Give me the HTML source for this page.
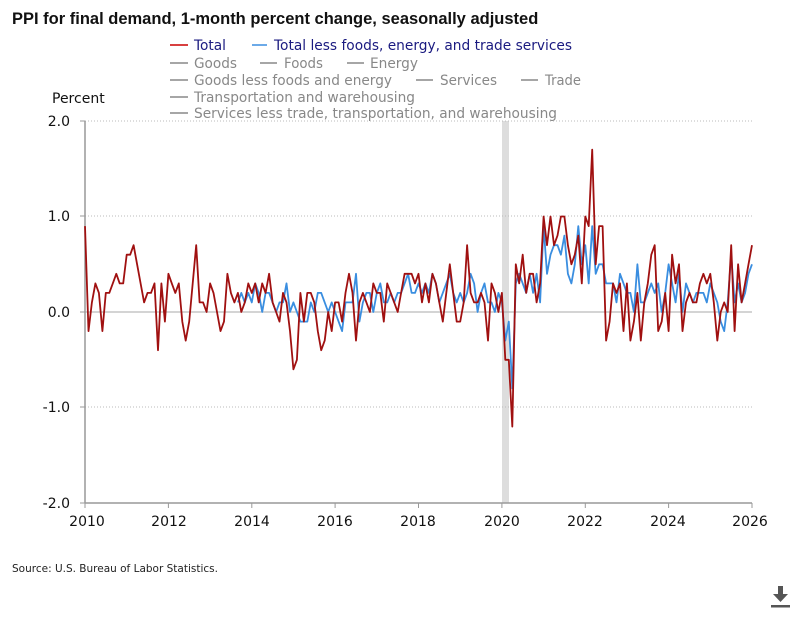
<!DOCTYPE html>
<html><head><meta charset="utf-8"><style>
body{margin:0;background:#fff;width:800px;height:617px;overflow:hidden}
svg{display:block}
</style></head><body>
<svg width="800" height="617" xmlns="http://www.w3.org/2000/svg" font-family="DejaVu Sans, Liberation Sans, sans-serif">
<text x="12" y="24" font-family="Liberation Sans, sans-serif" font-weight="bold" font-size="16.5" fill="#111">PPI for final demand, 1-month percent change, seasonally adjusted</text>
<g font-size="14">
<line x1="170" y1="45" x2="188" y2="45" stroke="#c00" stroke-width="1.5"/><text x="194" y="50" fill="#1a1a80" textLength="32" lengthAdjust="spacingAndGlyphs">Total</text>
<line x1="252" y1="45" x2="267" y2="45" stroke="#3a8ee0" stroke-width="1.5"/><text x="274" y="50" fill="#1a1a80" textLength="298" lengthAdjust="spacingAndGlyphs">Total less foods, energy, and trade services</text>
<g fill="#888" stroke="#888" stroke-width="1.5">
<line x1="170" y1="63" x2="188" y2="63"/><text x="194" y="68" stroke="none" textLength="43" lengthAdjust="spacingAndGlyphs">Goods</text>
<line x1="260" y1="63" x2="277" y2="63"/><text x="284" y="68" stroke="none" textLength="39" lengthAdjust="spacingAndGlyphs">Foods</text>
<line x1="347" y1="63" x2="364" y2="63"/><text x="370" y="68" stroke="none" textLength="48" lengthAdjust="spacingAndGlyphs">Energy</text>
<line x1="170" y1="80" x2="188" y2="80"/><text x="194" y="85" stroke="none" textLength="198" lengthAdjust="spacingAndGlyphs">Goods less foods and energy</text>
<line x1="416" y1="80" x2="433" y2="80"/><text x="440" y="85" stroke="none" textLength="57" lengthAdjust="spacingAndGlyphs">Services</text>
<line x1="521" y1="80" x2="538" y2="80"/><text x="545" y="85" stroke="none" textLength="36" lengthAdjust="spacingAndGlyphs">Trade</text>
<line x1="170" y1="97" x2="188" y2="97"/><text x="194" y="102" stroke="none" textLength="221" lengthAdjust="spacingAndGlyphs">Transportation and warehousing</text>
<line x1="170" y1="113" x2="188" y2="113"/><text x="194" y="118" stroke="none" textLength="363" lengthAdjust="spacingAndGlyphs">Services less trade, transportation, and warehousing</text>
</g></g>
<text x="52" y="103" font-size="14" fill="#111">Percent</text>
<rect x="502" y="121" width="7" height="382" fill="#ddd"/>
<g stroke="#bbb" stroke-dasharray="1,2" stroke-width="1">
<line x1="85" y1="121" x2="752" y2="121"/><line x1="85" y1="216" x2="752" y2="216"/><line x1="85" y1="407" x2="752" y2="407"/>
</g>
<line x1="85" y1="312" x2="752" y2="312" stroke="#aaa"/>
<line x1="85" y1="121" x2="85" y2="503" stroke="#999" stroke-width="1.5"/>
<line x1="85" y1="503" x2="752" y2="503" stroke="#999" stroke-width="1.5"/>
<g stroke="#999"><line x1="80" y1="121" x2="85" y2="121"/><line x1="80" y1="216" x2="85" y2="216"/><line x1="80" y1="312" x2="85" y2="312"/><line x1="80" y1="407" x2="85" y2="407"/><line x1="80" y1="503" x2="85" y2="503"/></g>
<g font-size="14" fill="#111" text-anchor="end">
<text x="70" y="126">2.0</text><text x="70" y="221">1.0</text><text x="70" y="317">0.0</text><text x="70" y="412">-1.0</text><text x="70" y="508">-2.0</text>
</g>
<g stroke="#999">
<line x1="85" y1="503" x2="85" y2="508"/><line x1="168.4" y1="503" x2="168.4" y2="508"/><line x1="251.8" y1="503" x2="251.8" y2="508"/><line x1="335.1" y1="503" x2="335.1" y2="508"/><line x1="418.5" y1="503" x2="418.5" y2="508"/><line x1="501.9" y1="503" x2="501.9" y2="508"/><line x1="585.3" y1="503" x2="585.3" y2="508"/><line x1="668.6" y1="503" x2="668.6" y2="508"/><line x1="752" y1="503" x2="752" y2="508"/>
</g>
<g font-size="14" fill="#111" text-anchor="middle">
<text x="87" y="526">2010</text><text x="169" y="526">2012</text><text x="252" y="526">2014</text><text x="335" y="526">2016</text><text x="418" y="526">2018</text><text x="502" y="526">2020</text><text x="585" y="526">2022</text><text x="668" y="526">2024</text><text x="750" y="526">2026</text>
</g>
<path id="blue" fill="none" stroke="#3a8ee0" stroke-width="1.8" stroke-linejoin="round"/>
<path id="red" fill="none" stroke="#a01010" stroke-width="1.8" stroke-linejoin="round"/>
<text x="12" y="572" font-size="10.5" fill="#222">Source: U.S. Bureau of Labor Statistics.</text>
<g fill="#555"><rect x="778" y="586" width="5" height="9"/><polygon points="773,594 788,594 780.5,602"/><rect x="771" y="605" width="19" height="2.5"/></g>
<script>
var red=[0.9,-0.2,0.1,0.3,0.2,-0.2,0.2,0.2,0.3,0.4,0.3,0.3,
0.6,0.6,0.7,0.5,0.3,0.1,0.2,0.2,0.3,-0.4,0.3,-0.1,
0.4,0.3,0.2,0.3,-0.1,-0.3,-0.1,0.3,0.7,0.1,0.1,0.0,
0.3,0.2,0.0,-0.2,-0.1,0.4,0.2,0.1,0.2,0.0,0.1,0.3,
0.2,0.3,0.1,0.3,0.2,0.4,0.1,0.0,-0.1,0.2,0.1,-0.2,
-0.6,-0.5,0.2,-0.1,0.2,0.2,0.1,-0.2,-0.4,-0.3,0.0,-0.2,
0.1,0.1,-0.1,0.2,0.4,0.2,-0.3,0.1,0.2,0.1,0.0,0.3,
0.2,0.2,-0.1,0.3,0.2,0.1,0.0,0.2,0.4,0.4,0.4,0.3,
0.4,0.1,0.3,0.1,0.4,0.3,0.1,-0.1,0.2,0.5,0.2,-0.1,
-0.1,0.1,0.7,0.2,0.1,0.1,0.2,0.1,-0.3,0.3,0.2,0.0,
0.2,-0.5,-0.5,-1.2,0.5,0.3,0.6,0.2,0.4,0.4,0.1,0.3,
1.0,0.7,1.0,0.7,0.8,1.0,1.0,0.7,0.5,0.6,0.8,0.3,
1.0,0.9,1.7,0.5,0.9,0.9,-0.3,-0.1,0.3,0.2,0.3,-0.2,
0.3,-0.3,-0.1,0.2,-0.3,0.1,0.3,0.6,0.7,-0.2,-0.1,0.2,
-0.2,0.6,0.3,0.5,-0.2,0.1,0.2,0.1,0.1,0.3,0.4,0.3,
0.4,0.1,-0.3,0.0,0.1,0.0,0.7,-0.2,0.5,0.1,0.3,0.5,0.7];
var blue=[0.1,0.2,0.1,0.2,
0.1,0.3,0.2,0.0,0.2,0.2,0.1,0.0,0.1,0.1,0.3,0.0,
0.1,0.0,-0.1,-0.1,-0.1,0.1,0.0,0.2,0.2,0.1,0.0,0.1,
0.0,-0.1,-0.2,0.1,0.1,0.1,0.4,-0.1,0.1,0.2,0.2,0.0,
0.2,0.3,0.1,0.1,0.2,0.1,0.2,0.2,0.3,0.4,0.2,0.2,
0.3,0.2,0.3,0.2,0.4,0.3,0.1,0.2,0.3,0.4,0.2,0.1,
0.2,0.1,0.2,0.4,0.3,0.0,0.2,0.3,0.1,0.1,0.0,0.2,
0.1,-0.3,-0.1,-0.8,0.3,0.4,0.3,0.2,0.4,0.2,0.4,0.1,
0.9,0.4,0.6,0.7,0.7,0.6,0.8,0.4,0.3,0.5,0.9,0.5,
0.7,0.3,0.9,0.4,0.5,0.5,0.3,0.3,0.3,0.1,0.4,0.3,
0.2,0.2,0.0,0.5,0.1,0.1,0.2,0.3,0.2,0.3,0.0,0.2,
0.5,0.3,0.1,0.4,0.0,0.3,0.2,0.1,0.2,0.2,0.2,0.1,
0.3,0.2,0.1,-0.1,-0.2,0.1,0.6,0.1,0.3,0.1,0.2,0.4,0.5];
function X(m){return 85+m*(667/192);}function Y(v){return 312-v*95.5;}
function P(a,s){return a.map(function(v,i){return (i?'L':'M')+X(i+s).toFixed(1)+','+Y(v).toFixed(1);}).join('');}
document.getElementById('red').setAttribute('d',P(red,0));
document.getElementById('blue').setAttribute('d',P(blue,44));
</script>
</svg>
</body></html>
